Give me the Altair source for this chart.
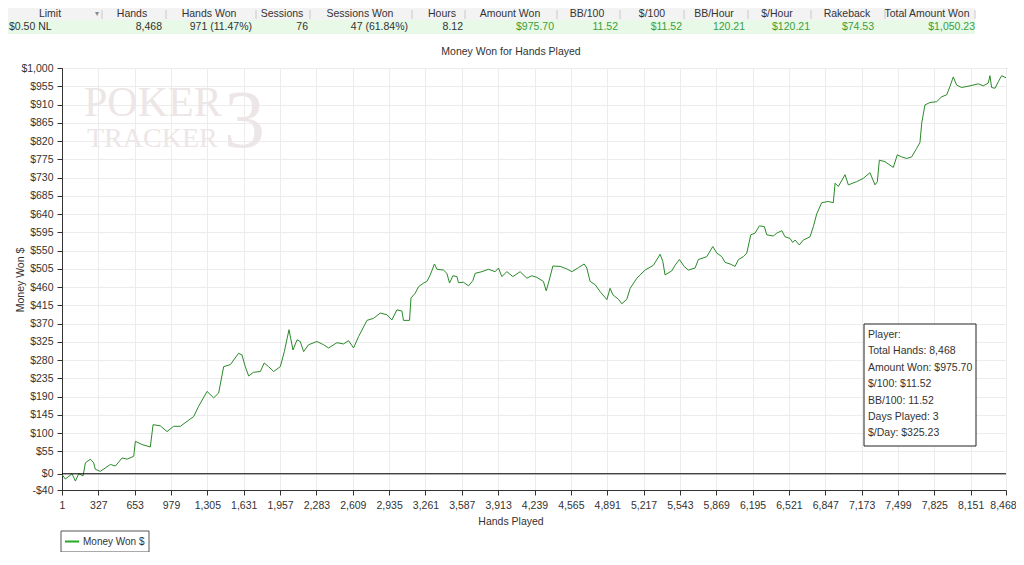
import altair as alt
import pandas as pd

# ---------------- data ----------------
HANDS = [1, 31, 91, 121, 151, 190, 211, 256, 285, 300, 345, 435, 480, 540, 585, 644, 659, 719, 793, 818,
         883, 943, 1002, 1062, 1122, 1182, 1226, 1302, 1361, 1406, 1451, 1511, 1585, 1615, 1645, 1675, 1719,
         1780, 1815, 1854, 1899, 1959, 1995, 2037, 2073, 2109, 2138,
         2168, 2213, 2288, 2347, 2392, 2467, 2526, 2571, 2616, 2661, 2736, 2795, 2855, 2915, 2960, 3005, 3050,
         3064, 3118, 3131, 3169, 3199, 3244, 3274, 3304, 3342, 3364, 3423, 3453, 3477, 3507, 3543, 3557, 3602,
         3647, 3686, 3707, 3767, 3826, 3886, 3916, 3946, 3991, 4045, 4110, 4171, 4215,
         4260, 4319, 4344, 4364, 4404, 4469, 4529, 4574, 4633, 4684, 4708, 4738, 4783, 4828, 4888, 4917, 4942,
         4992, 5022, 5067, 5097, 5157, 5231, 5306, 5366, 5390, 5410, 5470, 5500, 5539, 5581, 5619, 5679, 5709,
         5784, 5838, 5874, 5919, 5948, 5993, 6038, 6068, 6112, 6143, 6179, 6217, 6256, 6301, 6322, 6381, 6412,
         6457, 6486, 6531, 6555, 6576, 6614, 6650, 6710, 6740, 6770, 6815, 6874, 6919, 6935, 6964, 7024, 7054,
         7129, 7188, 7248, 7293, 7314, 7332, 7383, 7457, 7493, 7532, 7577, 7622, 7667, 7696, 7712, 7741, 7786,
         7846, 7891, 7936, 7965, 7995, 8025, 8070, 8145, 8219, 8264, 8309, 8324, 8339, 8369, 8399, 8429, 8468]
MONEY = [-2, -13, 0, -18, 0, -5, 27, 36, 27, 11, 6, 23, 19, 39, 36, 43, 80, 72, 66, 121,
         118, 104, 117, 117, 129, 141, 166, 203, 187, 199, 264, 269, 297, 293, 264, 241, 250,
         252, 273, 264, 252, 264, 301, 355, 305, 330, 326,
         301, 318, 326, 318, 310, 323, 320, 328, 310, 338, 378, 383, 396, 392, 379, 404, 401,
         378, 378, 433, 445, 461, 470, 474, 490, 517, 504, 502, 494, 470, 488, 486, 471, 472,
         463, 476, 494, 498, 504, 498, 507, 486, 498, 486, 498, 482, 488,
         484, 474, 451, 470, 512, 511, 505, 498, 508, 517, 507, 474, 466, 449, 429, 457, 441,
         430, 419, 430, 457, 482, 502, 514, 541, 523, 490, 500, 514, 528, 511, 502, 507, 528,
         535, 560, 544, 535, 521, 517, 511, 528, 535, 544, 589, 593, 611, 609, 589, 586, 593,
         599, 584, 580, 570, 576, 564, 576, 584, 609, 640, 668, 671, 668, 716, 708, 737, 712,
         720, 728, 742, 712, 720, 773, 769, 755, 786, 781, 777, 781, 802, 816, 864, 909, 915,
         917, 929, 934, 954, 978, 958, 952, 956, 961, 956, 963, 981, 952, 950, 966, 981, 976]

X_TICKS = [1, 327, 653, 979, 1305, 1631, 1957, 2283, 2609, 2935, 3261, 3587, 3913, 4239, 4565,
           4891, 5217, 5543, 5869, 6195, 6521, 6847, 7173, 7499, 7825, 8151, 8468]
Y_TICKS = [-40, 0, 55, 100, 145, 190, 235, 280, 325, 370, 415, 460, 505, 550, 595, 640, 685,
           730, 775, 820, 865, 910, 955, 1000]

HEADER_COLS = ["Limit", "Hands", "Hands Won", "Sessions", "Sessions Won", "Hours", "Amount Won",
               "BB/100", "$/100", "BB/Hour", "$/Hour", "Rakeback", "Total Amount Won"]
ROW_VALUES = ["$0.50 NL", "8,468", "971 (11.47%)", "76", "47 (61.84%)", "8.12", "$975.70",
              "11.52", "$11.52", "120.21", "$120.21", "$74.53", "$1,050.23"]
INFO_LINES = ["Player:", "Total Hands: 8,468", "Amount Won: $975.70", "$/100: $11.52",
              "BB/100: 11.52", "Days Played: 3", "$/Day: $325.23"]
TITLE = "Money Won for Hands Played"
X_TITLE = "Hands Played"
Y_TITLE = "Money Won $"
SERIES = "Money Won $"

# ---------------- layout (page pixels) ----------------
HEAD_CENTERS = [50, 132, 209, 282, 360, 442, 510, 587, 652, 714, 777, 847, 927]
HEAD_SEPS = [102, 166, 256, 310, 412, 465, 557, 620, 684, 748, 811, 885, 975]
VAL_RIGHT = [9, 162, 252, 308, 408, 463, 554, 618, 682, 745, 810, 874, 975]

FONT = "Liberation Sans"
TXT = "#333333"
LINE_GREEN = "#2a8a2a"
VAL_GREEN = "#3a9f3a"
WM = "#ede6e6"

OX, OY = 62, 68


def px(x):
    return x - OX


def py(y):
    return y - OY


one = pd.DataFrame({"k": [0]})


def text(s, x, y, size=10.5, color=TXT, align="left", font=FONT, angle=0, baseline="middle"):
    kw = dict(text=s, font=font, fontSize=size, color=color, align=align, baseline=baseline)
    if angle:
        kw["angle"] = angle
    return alt.Chart(one).mark_text(**kw).encode(x=alt.value(px(x)), y=alt.value(py(y)))


def rect(x1, y1, x2, y2, fill, stroke=""):
    kw = dict(fill=fill)
    if stroke:
        kw["stroke"] = stroke
        kw["strokeWidth"] = 1
    return alt.Chart(one).mark_rect(**kw).encode(
        x=alt.value(px(x1)), x2=alt.value(px(x2)), y=alt.value(py(y1)), y2=alt.value(py(y2)))


def vrule(x, y1, y2, color, w=1):
    return alt.Chart(one).mark_rule(color=color, strokeWidth=w).encode(
        x=alt.value(px(x)), y=alt.value(py(y1)), y2=alt.value(py(y2)))


def hrule(x1, x2, y, color, w=1):
    return alt.Chart(one).mark_rule(color=color, strokeWidth=w).encode(
        x=alt.value(px(x1)), x2=alt.value(px(x2)), y=alt.value(py(y)))


layers = []

# header table
layers.append(rect(8, 8, 975, 20, "#f3f3f3"))
layers.append(rect(8, 20, 975, 34, "#e8f9e8"))
for sx in HEAD_SEPS:
    layers.append(vrule(sx, 10, 19, "#c9c9c9"))
for lab, cx in zip(HEADER_COLS, HEAD_CENTERS):
    layers.append(text(lab, cx, 14, align="center"))
layers.append(text("\u25BE", 97, 14, size=8, color="#888888", align="center", font="DejaVu Sans"))
for i, (val, rx) in enumerate(zip(ROW_VALUES, VAL_RIGHT)):
    col = TXT if i < 6 else VAL_GREEN
    if i == 0:
        layers.append(text(val, rx, 27, color=col, align="left"))
    else:
        layers.append(text(val, rx, 27, color=col, align="right"))

# chart title and axis titles
layers.append(text(TITLE, 511, 52, align="center"))
layers.append(text(X_TITLE, 511, 522, align="center"))
layers.append(text(Y_TITLE, 21, 280, align="center", angle=270))

# watermark
layers.append(text("POKER", 84, 116, size=42, color=WM, font="Liberation Serif", baseline="alphabetic"))
layers.append(text("TRACKER", 87, 147, size=28, color=WM, font="Liberation Serif", baseline="alphabetic"))
layers.append(text("3", 224, 147, size=82, color=WM, font="Liberation Serif", baseline="alphabetic"))

# main series
df = pd.DataFrame({"hands": HANDS, "money": MONEY})
x_enc = alt.X("hands:Q",
              scale=alt.Scale(domain=[1, 8468], nice=False, zero=False),
              axis=alt.Axis(values=X_TICKS, tickCount=60, format=",d", title=None, labelFlush=False,
                            labelOverlap=False, tickSize=5, labelPadding=5, grid=True,
                            labelOffset={"expr": "datum.value == 8468 ? -3 : 0"},
                            gridColor="#ececec", domainColor="#333333", tickColor="#333333",
                            labelColor=TXT, labelFont=FONT, labelFontSize=10.5))
y_enc = alt.Y("money:Q",
              scale=alt.Scale(domain=[-40, 1000], nice=False, zero=False),
              axis=alt.Axis(values=Y_TICKS, tickCount=60, title=None,
                            labelExpr="(datum.value < 0 ? '-$' : '$') + format(abs(datum.value), ',')",
                            labelOverlap=False, tickSize=5, labelPadding=4, grid=True,
                            gridColor="#ececec", domainColor="#333333", tickColor="#333333",
                            labelColor=TXT, labelFont=FONT, labelFontSize=10.5))

zero = alt.Chart(one).mark_rule(color="#000000", strokeWidth=1).encode(y=alt.datum(0))
line = alt.Chart(df).mark_line(color=LINE_GREEN, strokeWidth=1).encode(x=x_enc, y=y_enc)
layers.insert(0, line)
layers.insert(1, zero)

# info box
layers.append(rect(864, 324, 976, 446, "#ffffff", stroke="#222222"))
for i, s in enumerate(INFO_LINES):
    layers.append(text(s, 868, 335 + i * 16.4))

# legend
layers.append(rect(61, 531, 149, 552, "#ffffff", stroke="#555555"))
layers.append(hrule(65, 79, 541.5, "#22aa22", w=2))
layers.append(text(SERIES, 83, 541.5, size=10))

chart = alt.layer(*layers).properties(
    width=944,
    height=422,
    autosize=alt.AutoSizeParams(type="none"),
    padding={"left": 54, "top": 60, "right": 10, "bottom": 62},
    background="#ffffff",
).configure_view(stroke="#333333", strokeWidth=1)

chart.save("out.html", embed_options={"renderer": "svg", "actions": False})
